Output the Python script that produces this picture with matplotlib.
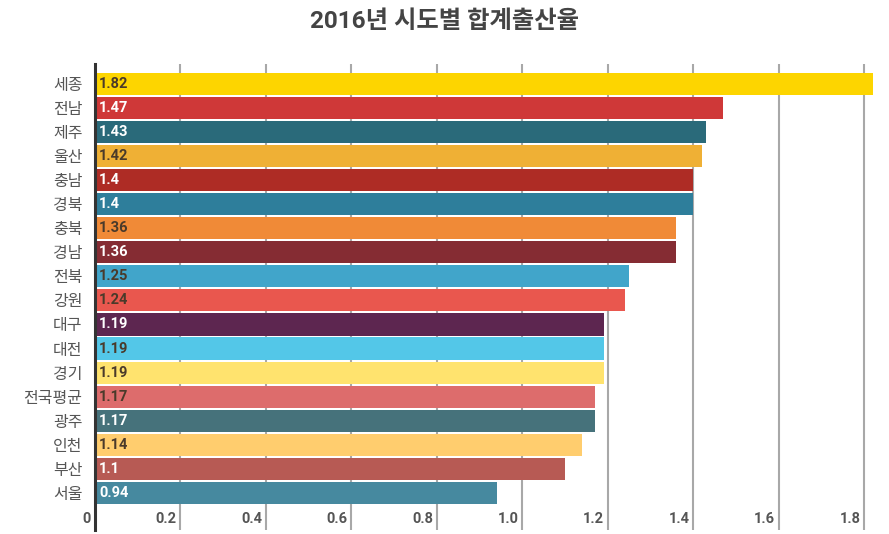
import matplotlib.pyplot as plt
import matplotlib.transforms as mtransforms

plt.rcParams['font.family'] = ['Roboto', 'Noto Sans CJK KR', 'DejaVu Sans']

# ---- data ----
regions = ["세종", "전남", "제주", "울산", "충남", "경북", "충북", "경남", "전북",
           "강원", "대구", "대전", "경기", "전국평균", "광주", "인천", "부산", "서울"]
rates = [1.82, 1.47, 1.43, 1.42, 1.4, 1.4, 1.36, 1.36, 1.25,
         1.24, 1.19, 1.19, 1.19, 1.17, 1.17, 1.14, 1.1, 0.94]
labels = ["1.82", "1.47", "1.43", "1.42", "1.4", "1.4", "1.36", "1.36", "1.25",
          "1.24", "1.19", "1.19", "1.19", "1.17", "1.17", "1.14", "1.1", "0.94"]
colors = ["#FDD500", "#CF3838", "#2A6A7A", "#EFB035", "#AE2C25", "#2E7E9B",
          "#F08A37", "#852C33", "#41A5CA", "#E9574E", "#5D2650", "#53C7E8",
          "#FFE36E", "#DD6C6C", "#46727B", "#FFCD6E", "#B75A54", "#46899F"]
dark_text = [True, False, False, True, False, False, True, False, True,
             True, False, True, True, True, False, True, False, False]
xticks = [0, 0.2, 0.4, 0.6, 0.8, 1.0, 1.2, 1.4, 1.6, 1.8]
xtick_labels = ["0", "0.2", "0.4", "0.6", "0.8", "1.0", "1.2", "1.4", "1.6", "1.8"]

W, H = 889, 534
fig = plt.figure(figsize=(W / 100, H / 100), dpi=100)
ax = fig.add_axes([95 / W, 4 / H, (873 - 95) / W, (530 - 64) / H])

ypos = list(range(len(regions)))
ax.barh(ypos, rates, height=0.92, color=colors, zorder=3)

ax.set_xlim(0, 1.82)
ax.set_ylim(18.54, -0.82)

# vertical gridlines
for t in xticks[1:]:
    ax.axvline(t, color="#a8a8a8", linewidth=1.5, zorder=1)

for s in ["top", "right", "bottom"]:
    ax.spines[s].set_visible(False)
ax.spines["left"].set_color("#333333")
ax.spines["left"].set_linewidth(2.2)
ax.spines["left"].set_zorder(4)

ax.set_xticks([])
ax.set_yticks(ypos)
ax.set_yticklabels(regions, fontsize=11.5, color="#555555")
ax.tick_params(axis="y", length=0, pad=9)

# x tick labels to the left of each gridline, at the bottom
offset = mtransforms.ScaledTranslation(-4 / 100, 0, fig.dpi_scale_trans)
for t, lab in zip(xticks, xtick_labels):
    ax.text(t, 18.1, lab, ha="right", va="center", fontsize=10.5,
            fontweight="bold", color="#555555",
            transform=ax.transData + offset)

# value labels inside bars
for y, v, lab, dk in zip(ypos, rates, labels, dark_text):
    ax.text(0.01, y, lab, ha="left", va="center", fontsize=10.5,
            fontweight="bold", color="#4a3a2a" if dk else "white", zorder=5)

fig.text(0.5, 1 - 22 / H, "2016년 시도별 합계출산율", ha="center", va="center",
         fontsize=17.5, fontweight="bold", color="#444444")

fig.savefig("out.png", dpi=100)
